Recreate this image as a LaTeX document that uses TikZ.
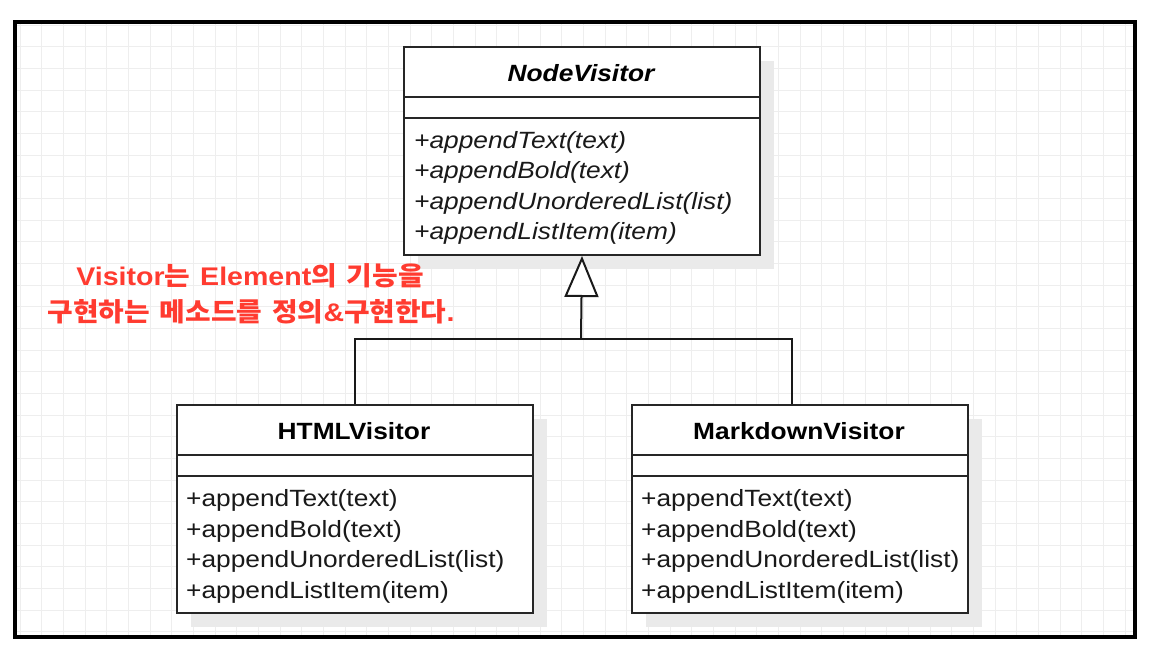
\documentclass[tikz,border=0pt]{standalone}
\usepackage{fontspec}
\setmainfont{Liberation Sans}[FakeStretch=1.12]
\newfontfamily\lat{Liberation Sans}[FakeStretch=1.12]
\newfontfamily\kr{Noto Sans CJK KR}[FakeStretch=1.07]
\usetikzlibrary{arrows.meta,calc,shadows}
\definecolor{gridc}{RGB}{238,238,238}
\definecolor{shadowc}{RGB}{234,234,234}
\definecolor{annred}{RGB}{255,59,48}
\newcommand{\kgap}{\hskip 10pt}
\newcommand{\krf}{\kr\fontsize{26}{30}\selectfont\bfseries}
\begin{document}
\begin{tikzpicture}[x=1pt,y=-1pt,
  classbox/.style={draw=black!85, line width=2pt, fill=white, anchor=north west, inner sep=0pt,
    drop shadow={shadow xshift=14pt, shadow yshift=-14pt, fill=shadowc, opacity=1}},
  boxline/.style={draw=black!85, line width=2pt},
  conn/.style={draw=black!90, line width=2pt},
  titletext/.style={font=\fontsize{23.5}{28}\selectfont\bfseries, anchor=base, inner sep=0pt},
  methodtext/.style={font=\fontsize{23.5}{28}\selectfont, anchor=base west, inner sep=0pt, text=black!90},
  anntext/.style={font=\fontsize{25.5}{30}\selectfont\lat\bfseries, text=annred, anchor=base, inner sep=0pt}
]
\useasboundingbox (0,0) rectangle (1164,660);
\fill[white] (0,0) rectangle (1164,660);
% grid
\begin{scope}
\clip (15,22) rectangle (1135,637);
\foreach \i in {0,...,51} \draw[gridc, line width=0.8pt] (20+\i*21.67,22) -- (20+\i*21.67,637);
\foreach \j in {0,...,28} \draw[gridc, line width=0.8pt] (15,25+\j*21.67) -- (1135,25+\j*21.67);
\end{scope}
% frame
\draw[line width=3.5pt, black] (15,22) rectangle (1135,637);

% NodeVisitor
\node[classbox, minimum width=356pt, minimum height=208pt] (nv) at (403,46) {};
\draw[boxline] ($(nv.north west)+(0,50.7)$) -- ($(nv.north east)+(0,50.7)$);
\draw[boxline] ($(nv.north west)+(0,71.7)$) -- ($(nv.north east)+(0,71.7)$);
\node[titletext] (nvt) at (581,81.5) {\itshape NodeVisitor};
\node[methodtext] (nvm1) at (414,148.5) {\itshape +appendText(text)};
\node[methodtext] (nvm2) at (414,178.9) {\itshape +appendBold(text)};
\node[methodtext] (nvm3) at (414,209.3) {\itshape +appendUnorderedList(list)};
\node[methodtext] (nvm4) at (414,239.7) {\itshape +appendListItem(item)};

% HTMLVisitor
\node[classbox, minimum width=356pt, minimum height=208pt] (hv) at (176,404) {};
\draw[boxline] ($(hv.north west)+(0,51)$) -- ($(hv.north east)+(0,51)$);
\draw[boxline] ($(hv.north west)+(0,72)$) -- ($(hv.north east)+(0,72)$);
\node[titletext] (hvt) at (354,439.5) {HTMLVisitor};
\node[methodtext] (hvm1) at (186,506.5) {+appendText(text)};
\node[methodtext] (hvm2) at (186,537) {+appendBold(text)};
\node[methodtext] (hvm3) at (186,567.5) {+appendUnorderedList(list)};
\node[methodtext] (hvm4) at (186,598) {+appendListItem(item)};

% MarkdownVisitor
\node[classbox, minimum width=336pt, minimum height=208pt] (md) at (631,404) {};
\draw[boxline] ($(md.north west)+(0,51)$) -- ($(md.north east)+(0,51)$);
\draw[boxline] ($(md.north west)+(0,72)$) -- ($(md.north east)+(0,72)$);
\node[titletext] (mdt) at (799,439.5) {MarkdownVisitor};
\node[methodtext] (mdm1) at (641,506.5) {+appendText(text)};
\node[methodtext] (mdm2) at (641,537) {+appendBold(text)};
\node[methodtext] (mdm3) at (641,567.5) {+appendUnorderedList(list)};
\node[methodtext] (mdm4) at (641,598) {+appendListItem(item)};

% inheritance connectors
\coordinate (jn) at (581,339);
\coordinate (mdtop) at (792,404);
\draw[conn] (hv.north) |- (jn) -| (mdtop);
\draw[conn, -{Triangle[length=41pt, width=34pt, line width=2pt, fill=white]}] (jn) -- (nv.south);

% annotation
\node[anntext] (ann1) at (250,285) {Visitor{\krf 는}\kgap Element{\krf 의\kgap 기능을}};
\node[anntext] (ann2) at (251,321) {{\krf 구현하는\kgap 메소드를\kgap 정의}\&{\krf 구현한다}.};
\end{tikzpicture}
\end{document}
